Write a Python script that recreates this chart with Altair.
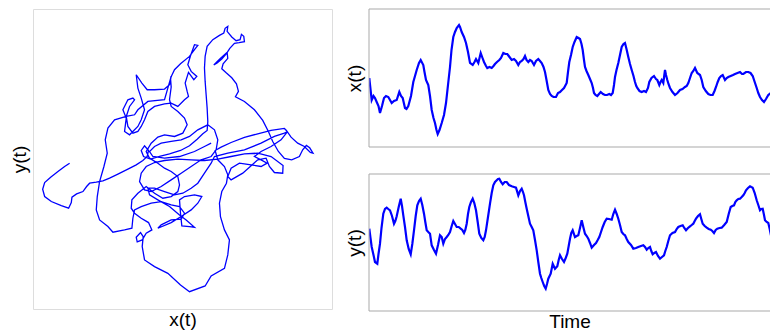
import altair as alt
import pandas as pd

# ---- trajectory (x(t), y(t)) (picture units) ----
traj_x = [215,200,180,158,140,134,140,160,190,212,220,222,236,255,266,275,295,315,335,360,390,415,435,448,
          452,440,430,437,458,485,515,548,575,598,615,628,
          630,628,625,622,620,622,628,645,665,678,682,690,688,702,715,727,731,738,740,724,710,696,686,672,658,648,666,688,690,676,672,686,702,716,722,713,
          740,770,795,812,825,842,860,882,905,915,926,936,946,938,920,900,880,866,860,820,780,740,700,670,652,
          660,680,690,686,672,665,668,680,695,690,680,640,622,575,548,510,470,440,433,436,428,415,418,433,445,
          462,452,430,410,400,402,420,445,470,495,520,540,545,540,520,
          500,480,455,445,460,480,500,530,555,568,560,540,520,515,520,518,530,548,575,590,600,590,578,570,580,597,588,572,
          562,568,572,560,540,520,500,470,450,440,430,420,405,390,385,395,410,405,390,375,385,380,395,420,430,440,430,420,415,432,448,470,500,515,520,
          500,450,420,410,385,350,330,322,328,318,305,298,295,305,330,345,380,402,405,410,430,460,490,520,545,560,550,520,490,480,520,550,580,600,612,590,560,545,548,552,575,590,
          565,545,515,480,455,450,470,500,530,555,580,600,620,640,650,690,740,790,830,860,870,
          850,820,790,770,790,808,790,760,725,700,690,700,735,780,805,815,830,855,856,
          820,780,740,700,660,620,580,540,500,470,445,430,425,440,460,490,520,550,580,610,640,655,660,650,630,600,575,550,520,490,470,455,465,500,545,590,620,640]
traj_y = [490,500,515,532,548,568,590,605,617,625,608,592,582,575,560,550,547,543,535,523,508,495,482,470,
          452,438,452,470,478,470,462,452,438,418,402,392,
          365,325,285,245,205,170,140,120,107,100,86,80,95,112,123,120,104,110,126,129,131,146,162,178,190,196,178,158,176,192,207,220,234,252,275,291,
          305,330,362,395,425,455,476,480,470,450,437,444,460,458,440,430,412,392,386,392,402,413,428,442,452,
          480,500,525,550,575,610,650,690,720,765,805,828,858,875,855,820,800,780,740,710,698,712,726,720,700,
          690,668,655,640,625,600,580,560,580,595,590,575,555,530,515,
          505,490,475,455,430,412,405,410,400,375,355,335,320,300,262,235,210,192,170,150,137,135,168,195,215,230,240,218,
          250,275,290,300,320,310,312,320,335,360,380,395,400,380,350,320,300,295,300,330,355,395,405,380,360,330,295,265,225,250,270,270,268,255,230,
          300,305,330,345,350,360,385,420,460,500,545,590,630,660,680,697,690,685,655,630,620,610,605,615,620,640,658,660,675,685,668,650,630,610,590,585,590,600,640,678,680,682,
          660,645,620,600,585,565,565,575,585,580,565,550,520,490,470,460,450,430,410,400,395,
          420,440,455,470,480,490,500,495,490,505,530,540,520,480,475,500,518,520,497,
          470,460,462,470,478,482,480,478,482,488,500,520,545,570,575,560,540,520,500,480,470,450,420,390,375,390,410,420,425,430,440,455,470,475,470,455,440,430]

# ---- x(t) time series (top right) ----
time_top = [369.3,371.7,373.5,375,376.7,378.5,380,382,384,386,388.3,390,391.7,394,396.7,399.3,401,402.7,405,406.5,408.3,411,413.3,415,416.7,419,420.7,423.3,424.5,426,428.3,430,431.7,433.5,435,436.5,437.7,439.5,441.7,444,446,448,450,451.5,453.3,455,456.7,459,460,461.7,464,466,468,470,472.7,474.5,476,478.3,480.7,482.5,484,486,487.3,489.5,491.7,493.5,495,497,499.3,501,503.3,505.5,507.3,509.5,511.7,514,516,518.3,520,521.7,523.5,525,526.5,528.3,530,531.7,534,536,538.3,540,541.7,543.5,545,546.5,548.3,550,551.7,553.5,556,558,560,562,564,566.7,568,569.3,571,572.7,574.5,576.7,578.5,580,581.5,582.7,584,585,586.5,588.3,590,591.7,593,594,595.5,597.3,599,600.7,603,605,607,609.3,611,612.7,614,615,616.5,618.3,620,621.7,623.5,625,626.5,628.3,630,631.7,633.5,635,636.3,637.3,639.5,641.7,644,646,648,649.3,651.5,654,656,657.3,659.3,660.5,661.7,663.3,664.2,665,666,667.3,668.5,670,672.5,675,677.5,680,682.5,685,686.7,688.3,690,691.7,693.3,695,697.3,700,701.7,703.3,705.8,708.3,710.5,712.7,714.5,716,717.7,719.3,721,722.7,725,726.7,728.3,730.7,733,735,737.5,740,742,743.3,746,748.3,750.5,752.7,754.7,756.7,758.3,760,762,764,766,768.3,771,774]
x_series = [78,100,96,98,102,106,113,106,98,96,97,100,103,101,100,92,96,98,108,109,106,96,82,76,70,63,60,65,72,80,85,96,110,118,123,130,134,130,123,115,103,85,67,50,37,32,28,25,27,32,37,43,52,63,65,62,59,63,53,58,62,66,68,67,68,66,64,62,60,58,53,54,54,57,60,59,61,65,62,61,59,56,60,62,60,61,65,61,59,61,63,67,72,80,90,94,96,97,97,93,92,90,88,83,72,62,55,47,42,37,38,39,44,50,60,67,71,75,79,83,88,93,95,96,94,92,94,95,95,94,95,93,85,77,70,63,55,47,44,43,49,57,64,70,76,82,86,88,91,92,91,92,88,82,78,76,79,80,85,82,80,83,76,70,75,80,84,88,92,95,93,90,89,87,86,83,78,73,71,68,73,75,80,87,91,94,95,95,91,87,82,78,76,75,80,78,77,76,75,74,73,72,74,74,72,72,73,76,82,88,93,97,100,102,99,95,93,90]

# ---- y(t) time series (bottom right) ----
time_bot = [369.3,370.5,371.7,373.5,375,377.3,378.5,380,381.5,383.3,385,386.7,388.3,390,392,394,395.3,396.7,398.7,400.7,402,403.3,405,406.7,408.7,410.7,412.3,414,415.7,417.3,419,420.7,422.3,424,425.3,426.7,428.3,430,431.7,434,436,438,440,441.7,443.3,445,446.7,448.3,450,451.7,453.3,455,456.7,458.7,460.7,462.3,464,465.3,466.7,468,469.3,471,472.7,474.3,476,477.7,479.3,481.3,483.3,484.7,486,488,490,491.7,493.3,495,496.7,498,499.3,501,502.7,504.7,506.7,509,511.7,514,516,518.3,520,521.7,523,524,525.3,526.7,528.3,530,531.7,533.3,535,536.7,538.3,540,541.3,542.7,544.2,545.7,547,548.3,550.7,552.7,555,557.3,558.7,560,562,564,565.7,567.3,568.7,570,571.3,572.7,575,576.7,578.3,580,581.7,583.3,585,586.7,588.3,590,591.7,594,596,597.7,599.3,601,602.7,604.7,606.7,609,611.7,613.3,615,616.7,618.3,620,621.7,623.3,625,626.7,628.3,631,633.3,636,638.3,641,643.3,645,646.7,648.3,650,651.3,652.7,654.3,656,658,660,662,664,665.3,666.7,668.3,670,672.5,675,676.7,678.3,680.5,682.7,684.3,686,688,690,691.7,693.3,694.7,696,698,700,701.3,702.7,704.7,706.7,708.7,710.7,712.3,714,715.7,717.3,719.5,721.7,724.2,726.7,728.7,730.7,732.3,734,735.3,736.7,738.3,740,741.7,743.3,744.7,746,748,750,751.3,752.7,754.7,756.7,758.3,760,761.3,762.7,763.8,765,766.7,768.3,769.7,771,774]
y_series = [226.7,236,245,253,260,261.7,252,241.7,226,211.7,207,205.7,207,208.3,214,221.7,219,214.3,205,196.7,204,213.3,225,238.3,247,252.3,242,228.3,214,203.3,199,196.7,203,211.7,220,228.3,230,231.7,243.3,248,251.7,243,233.3,235,241.7,237,235,233,230,224,219,222,225,225,226.7,228,231,228,221.7,212,205,200,196.7,201,208.3,220,231.7,236,238.3,235,228.3,215,201.7,191,183.3,180,178.3,177,176.7,180,182.3,180,180,183,184.3,185,185.7,193.3,189,186.7,190,193.3,200,206.7,214,221.7,225,228.3,238,248.3,260,271.7,276,280,284,286.7,282,276.7,271.7,261.7,266.7,264.3,258,253.3,257,260,256,251.7,244,236.7,231,228.3,235,234,233.3,226,218.3,225,231.7,234,236.7,241,245.7,243,241,238,235,230,225,220,216.7,217,217.7,212,207.7,212,216.7,223,230,232,233.3,237,240,243,246.7,246,245,244,243.3,245,247.7,246,245,249,252.3,251,250,254,256.7,255,253.3,249,245,239,233.3,231,230,227,225,224,223.3,226,228.3,226,224.3,223,221.7,219,216.7,214,212.3,217,221.7,224,225.7,227,227.7,229,231,228,226.7,226,225.7,223,220,212,205,204,203.3,200,198.3,197,196.7,195,193.3,191,188.3,186,184.3,185,185.7,191,198.3,203,208.3,207,206.7,212,218.3,220,221,227,233.3,240]

BLUE = "#0000ff"
FRAME = "#a9a9a9"
FONT = "Liberation Sans"
TFS = 19
RW = 401  # right panel plot width (runs off the window edge in the reference)

traj = pd.DataFrame({"i": list(range(len(traj_x))), "x": traj_x, "y": traj_y})
top = pd.DataFrame({"t": time_top, "v": x_series})
bot = pd.DataFrame({"t": time_bot, "v": y_series})
one = pd.DataFrame({"k": [0]})


def bare(title, pad):
    if title is None:
        return alt.Axis(title=None, labels=False, ticks=False, domain=False, grid=False)
    return alt.Axis(title=title, labels=False, ticks=False, domain=False, grid=False,
                    titleFont=FONT, titleFontSize=TFS, titleFontWeight="normal",
                    titleColor="black", titlePadding=pad)


left = alt.Chart(traj).mark_line(color=BLUE, strokeWidth=1.3, clip=True).encode(
    x=alt.X("x:Q", scale=alt.Scale(domain=[105, 1003], nice=False, zero=False), axis=bare("x(t)", 1)),
    y=alt.Y("y:Q", scale=alt.Scale(domain=[28, 927], reverse=True, nice=False, zero=False), axis=bare("y(t)", 4)),
    order="i:Q",
).properties(width=299, height=300)

tscale = alt.Scale(domain=[369, 369 + RW], nice=False, zero=False)


def frame_rules(h):
    lft = alt.Chart(one).mark_rule(color=FRAME, strokeWidth=1).encode(
        x=alt.value(0), y=alt.value(0), y2=alt.value(h))
    tp = alt.Chart(one).mark_rule(color=FRAME, strokeWidth=1).encode(
        x=alt.value(0), x2=alt.value(RW), y=alt.value(0))
    bt = alt.Chart(one).mark_rule(color=FRAME, strokeWidth=1).encode(
        x=alt.value(0), x2=alt.value(RW), y=alt.value(h))
    return [lft, tp, bt]


top_line = alt.Chart(top).mark_line(color=BLUE, strokeWidth=2.2, clip=True).encode(
    x=alt.X("t:Q", scale=tscale, axis=bare(None, 3)),
    y=alt.Y("v:Q", scale=alt.Scale(domain=[9, 147], reverse=True, nice=False, zero=False), axis=bare("x(t)", 5)),
)
top_chart = alt.layer(top_line, *frame_rules(138)).properties(
    width=RW, height=138, view=alt.ViewBackground(stroke="transparent"))

bot_line = alt.Chart(bot).mark_line(color=BLUE, strokeWidth=2.2, clip=True).encode(
    x=alt.X("t:Q", scale=tscale, axis=bare("Time", 1)),
    y=alt.Y("v:Q", scale=alt.Scale(domain=[172, 309], reverse=True, nice=False, zero=False), axis=bare("y(t)", 5)),
)
bot_chart = alt.layer(bot_line, *frame_rules(137)).properties(
    width=RW, height=137, view=alt.ViewBackground(stroke="transparent"))

right = alt.vconcat(top_chart, bot_chart, spacing=25)

chart = alt.hconcat(left, right, spacing=11).properties(
    padding={"left": 9, "top": 8, "right": 0, "bottom": 0}
).configure_view(stroke=FRAME, strokeWidth=1).configure(background="white")

chart.save("out.html", embed_options={"renderer": "svg", "actions": False})
